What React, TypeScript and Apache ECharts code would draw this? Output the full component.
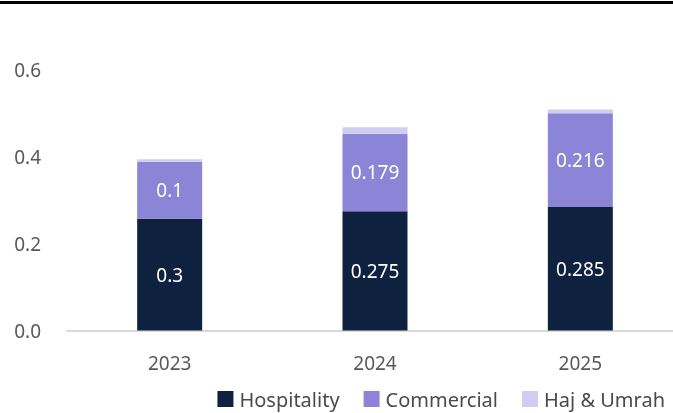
import React, { useEffect, useRef } from "react";
import * as echarts from "echarts";

const categories = ["2023", "2024", "2025"];
const hospitality = [0.258, 0.275, 0.285];
const commercial = [0.131, 0.179, 0.216];
const hajUmrah = [0.006, 0.015, 0.009];
const hospitalityLabels = ["0.3", "0.275", "0.285"];
const commercialLabels = ["0.1", "0.179", "0.216"];
const yTicks = [0, 0.2, 0.4, 0.6];

const FONT = "Noto Sans";
const GREY = "#595959";

export default function App() {
  const ref = useRef<HTMLDivElement>(null);
  useEffect(() => {
    if (!ref.current) return;
    const chart = echarts.init(ref.current, null, { renderer: "svg" });
    const labelStyle = (labels: string[]) => ({
      show: true,
      position: "inside",
      color: "#ffffff",
      fontFamily: FONT,
      fontSize: 19,
      formatter: (p: any) => labels[p.dataIndex],
    });
    chart.setOption({
      animation: false,
      textStyle: { fontFamily: FONT },
      graphic: [
        {
          type: "rect",
          shape: { x: 0, y: 1, width: 673, height: 3 },
          style: { fill: "#000000" },
        },
      ],
      grid: {
        left: 67,
        width: 616,
        top: 70.4,
        bottom: 82.5,
        outerBoundsMode: "none",
        containLabel: false,
      },
      legend: {
        right: 3,
        bottom: -1,
        itemWidth: 16,
        itemHeight: 16,
        itemGap: 24,
        icon: "rect",
        textStyle: { fontFamily: FONT, fontSize: 20, color: "#4a4a4a", padding: [0, 0, 0, 1] },
        data: ["Hospitality", "Commercial", "Haj & Umrah"],
      },
      xAxis: {
        type: "category",
        data: categories,
        axisLine: { lineStyle: { color: "#d9d9d9", width: 2 } },
        axisTick: { show: false },
        axisLabel: { color: GREY, fontFamily: FONT, fontSize: 19, margin: 23 },
      },
      yAxis: {
        type: "value",
        min: yTicks[0],
        max: yTicks[yTicks.length - 1],
        interval: 0.2,
        splitLine: { show: false },
        axisLine: { show: false },
        axisTick: { show: false },
        axisLabel: {
          color: GREY,
          fontFamily: FONT,
          fontSize: 19,
          margin: 26,
          formatter: (v: number) => v.toFixed(1),
        },
      },
      series: [
        {
          name: "Hospitality",
          type: "bar",
          stack: "total",
          barWidth: 65,
          data: hospitality,
          itemStyle: { color: "#0e2240" },
          label: labelStyle(hospitalityLabels),
        },
        {
          name: "Commercial",
          type: "bar",
          stack: "total",
          barWidth: 65,
          data: commercial,
          itemStyle: { color: "#8b84d7" },
          label: labelStyle(commercialLabels),
        },
        {
          name: "Haj & Umrah",
          type: "bar",
          stack: "total",
          barWidth: 65,
          data: hajUmrah,
          itemStyle: { color: "#d0cdf0" },
        },
      ],
    });
    return () => chart.dispose();
  }, []);
  return (
    <div
      ref={ref}
      style={{ position: "fixed", left: 0, top: 0, width: 673, height: 413 }}
    />
  );
}
